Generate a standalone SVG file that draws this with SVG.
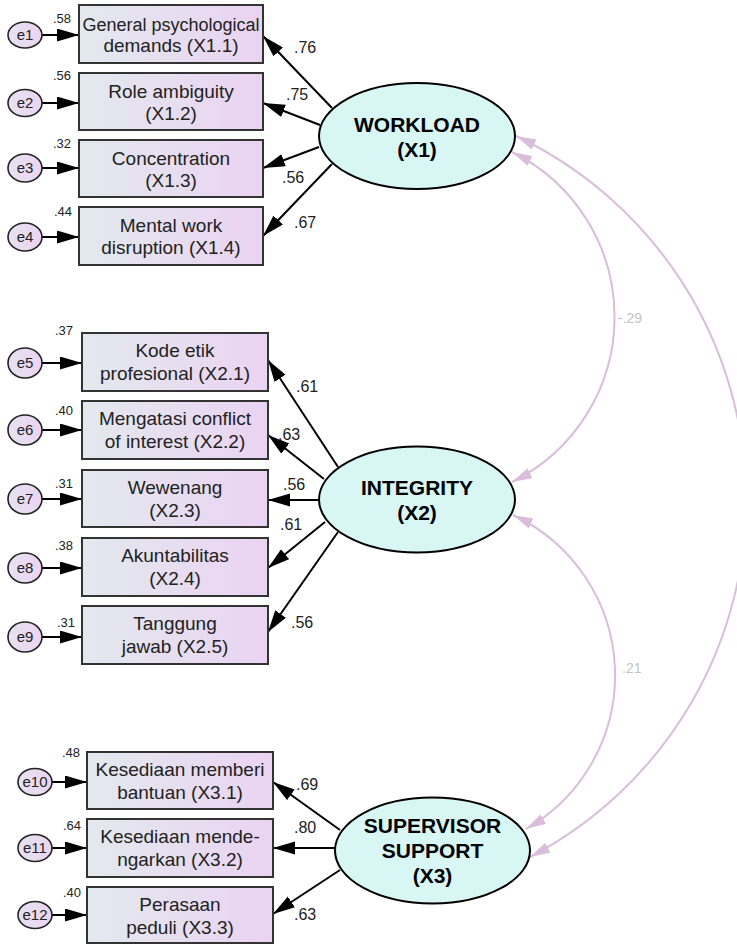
<svg xmlns="http://www.w3.org/2000/svg" width="737" height="945" viewBox="0 0 737 945">
<defs>
<linearGradient id="boxg" x1="0" y1="0" x2="1" y2="0">
<stop offset="0" stop-color="#e3e9ee"/>
<stop offset="1" stop-color="#ebd3f2"/>
</linearGradient>
<linearGradient id="eg" x1="0" y1="0" x2="1" y2="0">
<stop offset="0" stop-color="#e6e2f0"/>
<stop offset="1" stop-color="#ecd4f2"/>
</linearGradient>
<marker id="ah" markerUnits="userSpaceOnUse" markerWidth="24" markerHeight="14" refX="22" refY="6.5" orient="auto">
<path d="M0,0 L22,6.5 L0,13 z" fill="#000"/>
</marker>
<marker id="ch" markerUnits="userSpaceOnUse" markerWidth="22" markerHeight="12" refX="20" refY="5.5" orient="auto-start-reverse">
<path d="M0,0 L20,5.5 L0,11 z" fill="#d8bedb"/>
</marker>
</defs>
<style>
.box{fill:url(#boxg);stroke:#333;stroke-width:2}
.err{fill:url(#eg);stroke:#222;stroke-width:1.6}
.lat{fill:#d8f6f4;stroke:#000;stroke-width:2}
.bt{font-family:"Liberation Sans",Arial,sans-serif;font-size:19px;fill:#222;text-anchor:middle}
.lt{font-family:"Liberation Sans",Arial,sans-serif;font-size:21px;font-weight:bold;fill:#000;text-anchor:middle}
.et{font-family:"Liberation Sans",Arial,sans-serif;font-size:15px;fill:#222;text-anchor:middle}
.vl{font-family:"Liberation Sans",Arial,sans-serif;font-size:13px;fill:#222}
.pl{font-family:"Liberation Sans",Arial,sans-serif;font-size:16px;fill:#222}
.cl{font-family:"Liberation Sans",Arial,sans-serif;font-size:14px;fill:#c4c4c4}
.ln{stroke:#000;stroke-width:2;fill:none;marker-end:url(#ah)}
.cv{stroke:#d8bedb;stroke-width:2;fill:none;marker-start:url(#ch);marker-end:url(#ch)}
</style>
<rect width="737" height="945" fill="#fff"/>

<g id="connectors">
<line class="ln" x1="42" y1="35" x2="79" y2="35"/>
<line class="ln" x1="42" y1="103" x2="79" y2="103"/>
<line class="ln" x1="42" y1="168" x2="79" y2="168"/>
<line class="ln" x1="42" y1="237" x2="79" y2="237"/>
<line class="ln" x1="42" y1="363" x2="82" y2="363"/>
<line class="ln" x1="42" y1="430" x2="82" y2="430"/>
<line class="ln" x1="42" y1="499" x2="82" y2="499"/>
<line class="ln" x1="42" y1="568" x2="82" y2="568"/>
<line class="ln" x1="42" y1="637" x2="82" y2="637"/>
<line class="ln" x1="52" y1="782" x2="87" y2="782"/>
<line class="ln" x1="52" y1="848" x2="87" y2="848"/>
<line class="ln" x1="52" y1="915" x2="87" y2="915"/>

<line class="ln" x1="332" y1="108" x2="263" y2="36"/>
<line class="ln" x1="320" y1="125" x2="263" y2="103"/>
<line class="ln" x1="319" y1="147" x2="263" y2="168"/>
<line class="ln" x1="332" y1="164" x2="263" y2="236"/>

<line class="ln" x1="338" y1="467" x2="268" y2="360"/>
<line class="ln" x1="324" y1="479" x2="268" y2="435"/>
<line class="ln" x1="319" y1="500" x2="268" y2="500"/>
<line class="ln" x1="325" y1="522" x2="268" y2="568"/>
<line class="ln" x1="338" y1="532" x2="268" y2="632"/>

<line class="ln" x1="340" y1="830" x2="273" y2="782"/>
<line class="ln" x1="335" y1="848" x2="273" y2="848"/>
<line class="ln" x1="340" y1="870" x2="273" y2="914"/>

<path class="cv" d="M512,152 A184,184 0 0 1 512,482"/>
<path class="cv" d="M516,136 A403,403 0 0 1 530,857"/>
<path class="cv" d="M513,515 A177,177 0 0 1 526,829"/>

<text class="vl" x="53" y="23">.58</text>
<text class="vl" x="53" y="80">.56</text>
<text class="vl" x="53" y="148">.32</text>
<text class="vl" x="54" y="216">.44</text>
<text class="vl" x="55" y="335">.37</text>
<text class="vl" x="55" y="415">.40</text>
<text class="vl" x="55" y="488">.31</text>
<text class="vl" x="55" y="550">.38</text>
<text class="vl" x="57" y="627">.31</text>
<text class="vl" x="62" y="757">.48</text>
<text class="vl" x="63" y="830">.64</text>
<text class="vl" x="63" y="897">.40</text>

<text class="pl" x="294" y="53">.76</text>
<text class="pl" x="286" y="100">.75</text>
<text class="pl" x="282" y="183">.56</text>
<text class="pl" x="294" y="228">.67</text>
<text class="pl" x="296" y="392">.61</text>
<text class="pl" x="278" y="440">.63</text>
<text class="pl" x="283" y="490">.56</text>
<text class="pl" x="280" y="530">.61</text>
<text class="pl" x="291" y="628">.56</text>
<text class="pl" x="296" y="790">.69</text>
<text class="pl" x="294" y="833">.80</text>
<text class="pl" x="294" y="920">.63</text>

<text class="cl" x="618" y="323">-.29</text>
<text class="cl" x="622" y="673">.21</text>
</g>

<g id="e1"><ellipse class="err" cx="25" cy="35" rx="17" ry="13"/><text class="et" x="25" y="40">e1</text></g>
<g id="e2"><ellipse class="err" cx="25" cy="103" rx="17" ry="13.5"/><text class="et" x="25" y="108">e2</text></g>
<g id="e3"><ellipse class="err" cx="25" cy="168" rx="17" ry="14"/><text class="et" x="25" y="173">e3</text></g>
<g id="e4"><ellipse class="err" cx="25" cy="237" rx="17" ry="14"/><text class="et" x="25" y="242">e4</text></g>
<g id="e5"><ellipse class="err" cx="25" cy="363" rx="17" ry="15"/><text class="et" x="25" y="368">e5</text></g>
<g id="e6"><ellipse class="err" cx="25" cy="430" rx="17" ry="15"/><text class="et" x="25" y="435">e6</text></g>
<g id="e7"><ellipse class="err" cx="25" cy="499" rx="17" ry="15"/><text class="et" x="25" y="504">e7</text></g>
<g id="e8"><ellipse class="err" cx="25" cy="568" rx="17" ry="15"/><text class="et" x="25" y="573">e8</text></g>
<g id="e9"><ellipse class="err" cx="25" cy="637" rx="17" ry="15"/><text class="et" x="25" y="642">e9</text></g>
<g id="e10"><ellipse class="err" cx="35" cy="782" rx="17" ry="13.5"/><text class="et" x="35" y="787">e10</text></g>
<g id="e11"><ellipse class="err" cx="35" cy="848" rx="17" ry="13.5"/><text class="et" x="35" y="853">e11</text></g>
<g id="e12"><ellipse class="err" cx="35" cy="915" rx="17" ry="13.5"/><text class="et" x="35" y="920">e12</text></g>

<g id="X1.1"><rect class="box" x="79" y="5" width="184" height="58"/><text class="bt" x="171" y="31" style="font-size:18px">General psychological</text><text class="bt" x="171" y="52">demands (X1.1)</text></g>
<g id="X1.2"><rect class="box" x="79" y="73" width="184" height="57"/><text class="bt" x="171" y="98">Role ambiguity</text><text class="bt" x="171" y="120">(X1.2)</text></g>
<g id="X1.3"><rect class="box" x="79" y="140" width="184" height="57"/><text class="bt" x="171" y="165">Concentration</text><text class="bt" x="171" y="187">(X1.3)</text></g>
<g id="X1.4"><rect class="box" x="79" y="207" width="184" height="58"/><text class="bt" x="171" y="232">Mental work</text><text class="bt" x="171" y="254">disruption (X1.4)</text></g>

<g id="X2.1"><rect class="box" x="82" y="333" width="186" height="58"/><text class="bt" x="175" y="357">Kode etik</text><text class="bt" x="175" y="380">profesional (X2.1)</text></g>
<g id="X2.2"><rect class="box" x="82" y="401" width="186" height="58"/><text class="bt" x="175" y="425">Mengatasi conflict</text><text class="bt" x="175" y="448">of interest (X2.2)</text></g>
<g id="X2.3"><rect class="box" x="82" y="470" width="186" height="57"/><text class="bt" x="175" y="494">Wewenang</text><text class="bt" x="175" y="517">(X2.3)</text></g>
<g id="X2.4"><rect class="box" x="82" y="538" width="186" height="58"/><text class="bt" x="175" y="562">Akuntabilitas</text><text class="bt" x="175" y="585">(X2.4)</text></g>
<g id="X2.5"><rect class="box" x="82" y="606" width="186" height="58"/><text class="bt" x="175" y="630">Tanggung</text><text class="bt" x="175" y="653">jawab (X2.5)</text></g>

<g id="X3.1"><rect class="box" x="87" y="752" width="186" height="57"/><text class="bt" x="180" y="776">Kesediaan memberi</text><text class="bt" x="180" y="799">bantuan (X3.1)</text></g>
<g id="X3.2"><rect class="box" x="87" y="819" width="186" height="58"/><text class="bt" x="180" y="843">Kesediaan mende-</text><text class="bt" x="180" y="866">ngarkan (X3.2)</text></g>
<g id="X3.3"><rect class="box" x="87" y="887" width="186" height="56"/><text class="bt" x="180" y="911">Perasaan</text><text class="bt" x="180" y="934">peduli (X3.3)</text></g>

<g id="X1"><ellipse class="lat" cx="417" cy="136" rx="98" ry="53"/><text class="lt" x="417" y="132">WORKLOAD</text><text class="lt" x="417" y="157">(X1)</text></g>
<g id="X2"><ellipse class="lat" cx="417" cy="499.5" rx="98" ry="53"/><text class="lt" x="417" y="495">INTEGRITY</text><text class="lt" x="417" y="520">(X2)</text></g>
<g id="X3"><ellipse class="lat" cx="432.5" cy="850.5" rx="97.5" ry="53"/><text class="lt" x="432.5" y="833">SUPERVISOR</text><text class="lt" x="432.5" y="858">SUPPORT</text><text class="lt" x="432.5" y="883">(X3)</text></g>
</svg>
